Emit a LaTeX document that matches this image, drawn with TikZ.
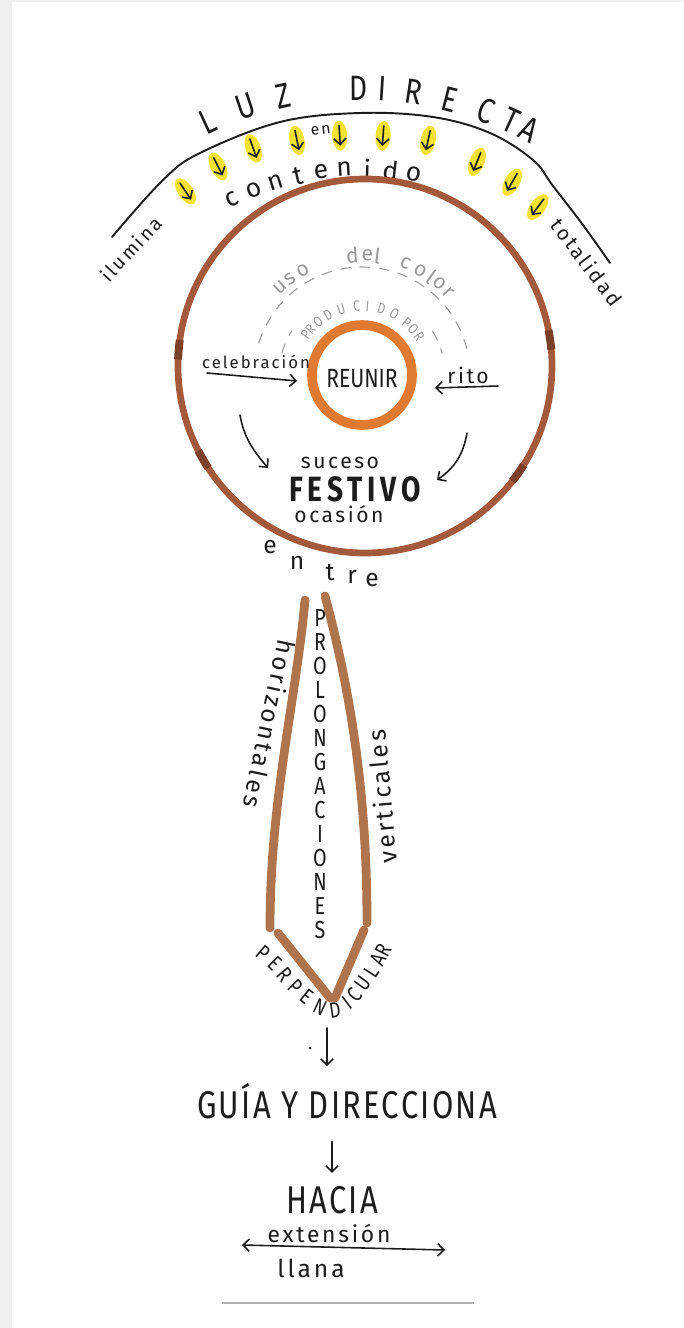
\documentclass[tikz,border=0pt]{standalone}
\usepackage{fontspec}
\setmainfont{Fira Sans}[LetterSpace=12]
\newfontfamily\capsfont{Fira Sans}[FakeStretch=0.8]
\usetikzlibrary{arrows.meta,shapes.geometric}
\definecolor{Ink}{HTML}{1C1C1C}
\definecolor{RingBrown}{HTML}{A35A3C}
\definecolor{RingDark}{HTML}{7B4029}
\definecolor{RingOrange}{HTML}{E07A31}
\definecolor{StripTan}{HTML}{AD744E}
\definecolor{SunYellow}{HTML}{F3E22F}
\definecolor{PencilGray}{HTML}{9A9A9A}
\definecolor{MarginGray}{HTML}{EFEFEF}
\tikzset{
  inkline/.style={draw=Ink, line width=0.9pt, line cap=round},
  handtip/.style={-{Straight Barb[length=3.5pt,width=7pt]}},
  bothtips/.style={{Straight Barb[length=3.5pt,width=7pt]}-{Straight Barb[length=3.5pt,width=7pt]}},
  handword/.style={inner sep=0pt, text=Ink, font=\fontsize{#1}{#1}\selectfont},
  capword/.style={inner sep=0pt, text=Ink, font=\capsfont\fontsize{#1}{#1}\selectfont},
  widecap/.style={inner sep=0pt, text=Ink, font=\capsfont\fontsize{#1}{#1}\selectfont\addfontfeature{LetterSpace=6}},
  pencilword/.style={inner sep=0pt, text=PencilGray, font=\fontsize{#1}{#1}\selectfont},
  pencilcap/.style={inner sep=0pt, text=PencilGray, font=\capsfont\fontsize{#1}{#1}\selectfont},
  sunglow/.style={ellipse, fill=SunYellow, minimum width=6mm, minimum height=3mm, inner sep=0pt},
  bigring/.style={draw=RingBrown, line width=3.8pt},
  reunirring/.style={draw=RingOrange, line width=5.5pt},
  pencilline/.style={draw=PencilGray, line width=0.6pt, dash pattern=on 6pt off 5pt},
  stripline/.style={draw=StripTan, line width=5pt, line cap=round}
}
\begin{document}
\begin{tikzpicture}[x=0.02cm, y=0.02cm]
\useasboundingbox (0,0) rectangle (683,-1328);
\fill[MarginGray] (0,0) rectangle (12,-1328);
\fill[MarginGray] (12,0) rectangle (683,-2);

% the light from above
\draw[inkline, line width=1.1pt] plot[smooth, tension=0.6] coordinates {(112,-237) (163,-180) (200,-153) (280,-122) (360,-113) (433,-117) (490,-133) (533,-160) (553,-186) (583,-225) (610,-263)};
\begin{scope}[shift={(360,-450)}]
  \foreach \a/\rad [count=\i] in {124/312,116.6/317,109.5/320,101.5/316,93.7/315,85.8/315,77.6/317,67.9/311,60.4/308,53.8/301}{
    \node[sunglow, rotate=\a] (glow\i) at (\a:\rad) {};
    \draw[inkline, handtip] ({\a}:{\rad+10}) -- ({\a}:{\rad-10});
  }
  \foreach \ch/\a [count=\i] in {L/114.9,U/108.4,Z/102.2,D/90.3,I/86.4,R/81.5,E/75.7,C/69.6,T/65.4,A/62.2}
    \node[capword=20, rotate=\a-90] (luz\i) at (\a:362) {\ch};
  \foreach \ch [count=\i] in {c,o,n,t,e,n,i,d,o}
    \node[handword=15, rotate={117-4.75*(\i-1)-90}] (cont\i) at ({117-4.75*(\i-1)}:281) {\ch};
  \node[handword=9, rotate=7] (en) at (97:322) {en};
\end{scope}
\node[handword=11, rotate=47] (ilumina) at (131,-249) {ilumina};
\node[handword=11.5, rotate=-53] (totalidad) at (587,-262) {totalidad};

% big ring
\draw[bigring] (365,-366) circle[radius=187];
\begin{scope}[shift={(365,-366)}]
  \foreach \a in {175,8,210,-35}
    \draw[draw=RingDark, line width=4.5pt] ({\a-3}:187) arc[start angle={\a-3}, end angle={\a+3}, radius=187];
\end{scope}

% inner ring
\draw[reunirring] (362,-375) circle[radius=50];
\node[capword=15] (reunir) at (362,-379) {REUNIR};
\begin{scope}[shift={(362,-375)}]
  \draw[pencilline] (163:108) arc[start angle=163, end angle=12, radius=108];
  \draw[pencilline] (165:83) arc[start angle=165, end angle=148, radius=83];
  \draw[pencilline] (32:83) arc[start angle=32, end angle=15, radius=83];
  \foreach \ch/\a [count=\i] in {u/132.9,s/126.7,o/119.4,d/94.6,e/87.5,l/82.6,c/68.8,o/60.5,l/54.6,o/49.6,r/43.7}
    \node[pencilword=12, rotate=\a-90] (uso\i) at (\a:120) {\ch};
  \foreach \ch/\a [count=\i] in {P/144.5,R/138.5,O/129.5,D/119.7,U/107.6,C/94.5,I/85.5,D/73.6,O/61.9,P/49.7,O/42.2,R/33.9}
    \node[pencilcap=8.5, rotate=\a-90] (prod\i) at (\a:69) {\ch};
\end{scope}

\node[handword=9.5] (celebra) at (256,-362) {celebración};
\coordinate (celebraA) at (207,-373);
\coordinate (celebraB) at (297,-381);
\draw[inkline, handtip] (celebraA) -- (celebraB);
\node[handword=12] (rito) at (468,-375) {rito};
\coordinate (ritoA) at (498,-386);
\coordinate (ritoB) at (435,-388);
\draw[inkline, handtip] (ritoA) -- (ritoB);

\coordinate (leftA) at (240,-415);
\coordinate (leftB) at (268,-468);
\draw[inkline, handtip] (leftA) to[out=-80, in=130] (leftB);
\coordinate (rightA) at (467,-433);
\coordinate (rightB) at (437,-480);
\draw[inkline, handtip] (rightA) to[out=-100, in=35] (rightB);

\node[handword=12] (suceso) at (340,-463) {suceso};
\node[inner sep=0pt, text=Ink, font=\capsfont\bfseries\fontsize{20}{20}\selectfont\addfontfeature{LetterSpace=14}] (festivo) at (355,-489) {FESTIVO};
\node[handword=12] (ocasion) at (339,-514) {ocasión};
\foreach \ch/\x/\y [count=\i] in {e/270/547,n/297/563,t/330/573,r/352/577,e/372/580}
  \node[handword=14] (entre\i) at (\x,-\y) {\ch};

% the two prolongations
\draw[stripline] (305,-600) .. controls (296,-700) and (270,-800) .. (270,-928);
\draw[stripline] (325,-596) .. controls (350,-690) and (367,-790) .. (367,-923);
\draw[stripline] (278,-933) -- (330,-998);
\draw[stripline] (335,-998) -- (364,-930);
\foreach \ch [count=\i] in {P,R,O,L,O,N,G,A,C,I,O,N,E,S}
  \node[capword=14] (prolong\i) at (320,{-594-24*\i}) {\ch};
\node[handword=14, rotate=-102] (horiz) at (270,-724) {horizontales};
\node[handword=14, rotate=95] (vert) at (382,-797) {verticales};
\foreach \ch/\x/\y/\a [count=\i] in {P/263/953/-40,E/275/963/-45,R/285/975/-50,P/295/987/-45,E/307/997/-39,N/320/1007/-25,D/335/1010/8,I/347/1003/37,C/355/995/51,U/363/983/54,L/372/972/57,A/378/960/63,R/383/950/63}
  \node[capword=12.5, rotate=\a] (perp\i) at (\x,-\y) {\ch};

% below
\node[circle, fill=Ink, inner sep=0.6pt] (dot) at (310,-1048) {};
\coordinate (dropA) at (327,-1028);
\coordinate (dropB) at (327,-1066);
\draw[inkline, handtip] (dropA) -- (dropB);
\node[widecap=22] (guia) at (347,-1101) {GUÍA Y DIRECCIONA};
\node[widecap=22] (hacia) at (332,-1200) {HACIA};
\draw[inkline, handtip, shorten <=4.5mm, shorten >=2.6mm] (guia.south -| hacia.north) -- (hacia.north);
\node[handword=13] (extension) at (329,-1233) {extensión};
\coordinate (llanaL) at (242,-1245);
\coordinate (llanaR) at (445,-1250);
\draw[inkline, bothtips] (llanaL) -- (llanaR);
\node[handword=14] (llana) at (311,-1268) {llana};
\draw[draw=gray!60, line width=0.8pt] (222,-1303) -- (474,-1303);
\end{tikzpicture}
\end{document}
